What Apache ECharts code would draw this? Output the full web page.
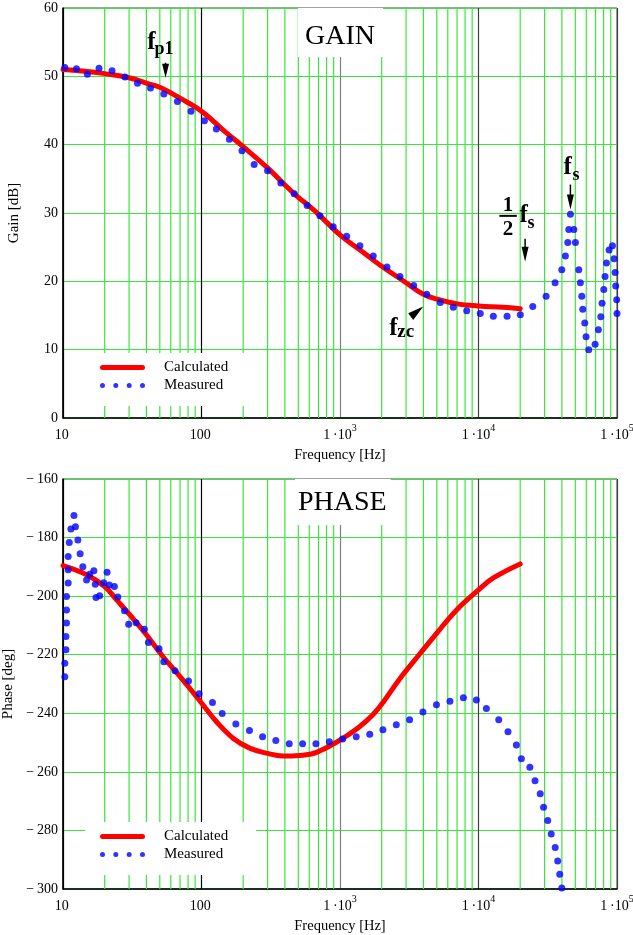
<!DOCTYPE html>
<html>
<head>
<meta charset="utf-8">
<script src="https://cdn.jsdelivr.net/npm/echarts@6/dist/echarts.min.js"></script>
<style>
  html, body { margin: 0; padding: 0; background: #fff; }
  #chart { width: 633px; height: 935px; }
</style>
</head>
<body>
<div id="chart"></div>
<script>
// values
const calcGainFreq = [10, 15, 20, 30, 40, 50, 70, 100, 150, 200, 300, 400, 500, 600, 700, 1000, 1500, 2000, 3000, 4000, 5000, 7000, 10000, 15000, 20000];
const calcGainDb = [51.0, 50.7, 50.4, 49.8, 49.0, 48.4, 46.8, 44.9, 41.8, 39.7, 36.6, 34.1, 32.3, 31.0, 29.8, 26.8, 24.1, 22.2, 19.8, 18.1, 17.4, 16.7, 16.4, 16.2, 16.0];

const measGainFreq = [10.3, 12.5, 15, 18.2, 22.6, 28, 34.5, 42.8, 53.5, 67, 84, 105, 128, 159, 196, 240, 300, 374, 467, 579,
  716, 893, 1117, 1393, 1738, 2183, 2710, 3404, 4227, 5300, 6577, 8223, 10300, 12800, 16070, 20050, 24650, 30760, 35730, 39930,
  42400, 44140, 44860, 46100, 48800, 50100, 53000, 54400, 55700, 56600, 58500, 59800, 62500, 69500, 73400, 76400, 78000, 80300,
  82000, 83900, 87700, 92700, 95300, 96900, 97900, 99500, 100000];
const measGainDb = [51.3, 51.1, 50.3, 51.2, 50.8, 49.9, 49.0, 48.3, 47.4, 46.3, 44.9, 43.5, 42.3, 40.8, 39.1, 37.1, 36.2, 34.4, 32.8, 31.1,
  29.6, 28.0, 26.6, 25.2, 23.7, 22.1, 20.7, 19.4, 18.1, 16.9, 16.2, 15.7, 15.3, 14.9, 14.9, 15.1, 16.3, 17.8, 19.8, 21.7,
  23.7, 25.7, 27.6, 29.8, 27.6, 25.7, 21.7, 19.8, 17.8, 15.9, 13.9, 11.9, 10.0, 10.8, 12.9, 14.8, 16.8, 18.8,
  20.7, 22.7, 24.6, 25.2, 23.3, 21.3, 19.3, 17.3, 15.3];

const calcPhaseFreq = [10, 14.8, 20, 24.3, 30.4, 40, 52.6, 70, 92, 100, 128, 169, 223, 295, 388, 512, 620, 712, 850, 1053,
  1390, 1740, 2050, 2720, 3800, 5000, 6950, 9700, 12800, 20000];
const calcPhaseDeg = [-189.6, -192.7, -196.7, -201.2, -206.4, -213.2, -220.6, -227.5, -234.3, -236.5, -242.8, -248.5, -251.9, -253.6, -254.6, -254.4, -253.9, -252.9, -251.1, -248.5,
  -244.5, -240.3, -236.2, -228, -219.5, -212.6, -204.7, -198.4, -193.8, -189];

const measPhaseFreq = [10.3, 10.3, 10.5, 10.5, 10.6, 10.6, 10.6, 10.9, 10.9, 10.9, 11.1, 11.4, 12.0, 12.3, 12.8, 13.3, 13.9, 14.8, 15.6, 16.7,
  17.1, 17.3, 18.4, 19.7, 20.8, 21.6, 23.5, 24.9, 27.8, 29.8, 33.7, 38.7, 41.4, 49.4, 53.5, 64.4, 80.6, 96.1, 120, 141,
  177, 222, 276, 344, 430, 537, 670, 838, 1045, 1310, 1640, 2040, 2550, 3180, 3970, 4970, 6220, 7780, 9650, 11400,
  14000, 16330, 18770, 20400, 23500, 25600, 27900, 29500, 31600, 33500, 35800, 37300, 38600, 39950];
const measPhaseDeg = [-227.5, -222.9, -218.3, -213.8, -209.2, -204.7, -200.1, -195.5, -191, -186.5, -181.7, -177.1, -172.5, -176.3, -180.8, -185.5, -190, -194.5, -192.5, -191.3,
  -195.9, -200.5, -199.9, -195.4, -191.8, -196.2, -196.7, -200.3, -205, -209.6, -209.1, -211.3, -215.8, -218, -222.4, -225.5, -229, -233.3, -236.3, -240.1,
  -243.7, -245.9, -248, -249.3, -250.4, -250.4, -250.4, -249.7, -248.8, -248, -247.2, -245.6, -243.9, -242.2, -239.6, -237.1, -235.9, -234.7, -235.5, -238.4,
  -242.2, -246.3, -250.8, -255.5, -258.4, -263, -267.5, -272.1, -276.6, -281.2, -285.8, -290.4, -295, -299.7];

// annotation arrow tips (frequency, gain)
const markNames = ['fp1', 'fs', 'halfFs', 'fzc'];
const markFreq = [55, 46100, 21700, 3990];
const markGain = [49.8, 30.5, 22.85, 16.3];

// minor log grid lines: 2..9 in every decade
const minorFreqs = [];
[10, 100, 1000, 10000].forEach(d => { for (let k = 2; k <= 9; k++) minorFreqs.push(d * k); });

const FONT = '"Liberation Serif", "Times New Roman", serif';
const GREEN = '#3ae63a';

const zip = (xs, ys) => xs.map((x, i) => [x, ys[i]]);
function vLines(y0, y1) {
  const d = [];
  minorFreqs.forEach(f => { d.push([f, y0], [f, y1], [f, '-']); });
  return d;
}

function xLabel(v) {
  const e = Math.round(Math.log10(v));
  if (e <= 2) return '{a|' + Math.round(v) + '}{e| }';
  return '{a|1\u2009\u00b710}{e|' + e + '}';
}

function xAxis(gridIndex, nameGap) {
  return {
    type: 'log', logBase: 10, gridIndex: gridIndex, min: 10, max: 100000,
    name: 'Frequency [Hz]', nameLocation: 'middle', nameGap: nameGap,
    nameTextStyle: { fontFamily: FONT, fontSize: 14.5, color: '#000' },
    axisLine: { show: true, onZero: false, lineStyle: { color: '#000', width: 1.5 } },
    axisTick: { show: false },
    minorTick: { show: false },
    axisLabel: {
      formatter: xLabel, margin: 10, color: '#000',
      rich: {
        a: { fontFamily: FONT, fontSize: 14, color: '#000' },
        e: { fontFamily: FONT, fontSize: 10, lineHeight: 10, padding: [0, 0, 13, 0], color: '#000' }
      }
    },
    splitLine: { show: true, lineStyle: { color: ['#000', '#000', '#808080', '#404040', '#404040'], width: 1.2 } }
  };
}

function yAxis(gridIndex, name, min, max, interval) {
  return {
    type: 'value', gridIndex: gridIndex, min: min, max: max, interval: interval,
    name: name, nameLocation: 'middle', nameGap: 41,
    nameTextStyle: { fontFamily: FONT, fontSize: 15, color: '#000' },
    axisLine: { show: true, lineStyle: { color: '#000', width: 1.5 } },
    axisTick: { show: false },
    axisLabel: {
      margin: 5, fontFamily: FONT, fontSize: 14, color: '#000',
      formatter: v => (v < 0 ? '\u2212\u2009' + (-v) : String(v))
    },
    splitLine: { show: true, lineStyle: { color: GREEN, width: 1.2 } }
  };
}

function legend(top) {
  return {
    orient: 'vertical', left: 85, top: top,
    backgroundColor: '#fff', padding: [7, 28, 13, 15], itemGap: 3,
    itemWidth: 45, itemHeight: 5, selectedMode: false, z: 10,
    itemStyle: { borderWidth: 0 },
    textStyle: { fontFamily: FONT, fontSize: 15, color: '#000', lineHeight: 15, padding: [0, 0, 0, 14] },
    data: [
      { name: 'Calculated', icon: 'path://M2.5,0 L42.5,0 A2.5,2.5 0 0 1 42.5,5 L2.5,5 A2.5,2.5 0 0 1 2.5,0 Z' },
      { name: 'Measured', icon: 'path://M0,2.5 A2.5,2.5 0 1 0 5,2.5 A2.5,2.5 0 1 0 0,2.5 Z M13.3,2.5 A2.5,2.5 0 1 0 18.3,2.5 A2.5,2.5 0 1 0 13.3,2.5 Z M26.7,2.5 A2.5,2.5 0 1 0 31.7,2.5 A2.5,2.5 0 1 0 26.7,2.5 Z M40,2.5 A2.5,2.5 0 1 0 45,2.5 A2.5,2.5 0 1 0 40,2.5 Z' }
    ]
  };
}

function panelTitle(text, left, top, padding) {
  return {
    text: text, left: left, top: top, padding: padding, backgroundColor: '#fff', z: 10,
    textStyle: { fontFamily: FONT, fontSize: 28, fontWeight: 'normal', color: '#000', lineHeight: 29 }
  };
}

function gridSeries(i, y0, y1) {
  return {
    type: 'line', name: 'grid' + i, xAxisIndex: i, yAxisIndex: i, data: vLines(y0, y1),
    showSymbol: false, connectNulls: false, silent: true, z: 1,
    lineStyle: { color: GREEN, width: 1.2 }
  };
}

const chart = echarts.init(document.getElementById('chart'), null, { renderer: 'canvas' });

const option = {
  animation: false,
  backgroundColor: '#fff',
  title: [
    panelTitle('GAIN', 298, 8, [14, 8, 6, 7]),
    panelTitle('PHASE', 295, 479, [9, 4, 8, 3])
  ],
  legend: [legend(353), legend(822)],
  grid: [
    { left: 63, top: 8, width: 554, height: 410, show: true, borderColor: '#444', borderWidth: 1, containLabel: false, outerBoundsMode: 'none' },
    { left: 63, top: 479, width: 554, height: 410, show: true, borderColor: '#444', borderWidth: 1, containLabel: false, outerBoundsMode: 'none' }
  ],
  xAxis: [xAxis(0, 22), xAxis(1, 20)],
  yAxis: [
    yAxis(0, 'Gain [dB]', 0, 60, 10),
    yAxis(1, 'Phase [deg]', -300, -160, 20)
  ],
  series: [
    gridSeries(0, 0, 60),
    gridSeries(1, -300, -160),
    {
      type: 'line', name: 'Calculated', xAxisIndex: 0, yAxisIndex: 0,
      data: zip(calcGainFreq, calcGainDb), smooth: 0.4, showSymbol: false, z: 3,
      color: '#ff0000', lineStyle: { color: '#ff0000', width: 5, cap: 'round' }
    },
    {
      type: 'scatter', name: 'Measured', xAxisIndex: 0, yAxisIndex: 0,
      data: zip(measGainFreq, measGainDb), symbolSize: 7, z: 4,
      itemStyle: { color: '#0000ff' }
    },
    {
      type: 'line', name: 'Calculated', xAxisIndex: 1, yAxisIndex: 1,
      data: zip(calcPhaseFreq, calcPhaseDeg), smooth: 0.4, showSymbol: false, z: 3,
      color: '#ff0000', lineStyle: { color: '#ff0000', width: 5, cap: 'round' }
    },
    {
      type: 'scatter', name: 'Measured', xAxisIndex: 1, yAxisIndex: 1,
      data: zip(measPhaseFreq, measPhaseDeg), symbolSize: 7, z: 4,
      itemStyle: { color: '#0000ff' }
    }
  ]
};
chart.setOption(option);

// annotations, anchored to the gain axes
const tip = i => chart.convertToPixel({ xAxisIndex: 0, yAxisIndex: 0 }, [markFreq[i], markGain[i]]);
function txt(x, y, s, size, align) {
  return { type: 'text', x: x, y: y, z: 20,
    style: { text: s, font: 'bold ' + size + 'px ' + FONT, fill: '#000', textAlign: align || 'left', textVerticalAlign: 'middle' } };
}
function poly(pts) { return { type: 'polygon', z: 20, shape: { points: pts }, style: { fill: '#000' } }; }
function seg(x1, y1, x2, y2) { return { type: 'line', z: 20, shape: { x1: x1, y1: y1, x2: x2, y2: y2 }, style: { stroke: '#000', lineWidth: 1.5 } }; }
function downArrow(p, stemTop, headTop, half) {
  const out = [poly([[p[0] - half, p[1] + headTop], [p[0] + half, p[1] + headTop], [p[0], p[1]]])];
  if (stemTop < headTop) out.push(seg(p[0], p[1] + stemTop, p[0], p[1] + headTop + 1));
  return out;
}

const g = [];
let p = tip(0); // f_p1
g.push(txt(p[0] - 18.3, p[1] - 34.8, 'f', 25), txt(p[0] - 11, p[1] - 28, 'p1', 18));
g.push(...downArrow(p, -15, -14, 3.5));
p = tip(1); // f_s
g.push(txt(p[0] - 7, p[1] - 42.5, 'f', 25), txt(p[0] + 2, p[1] - 34.4, 's', 18));
g.push(...downArrow(p, -25, -15, 3.5));
p = tip(2); // 1/2 f_s
g.push(txt(p[0] - 17, p[1] - 55.8, '1', 21, 'center'), txt(p[0] - 17, p[1] - 31.8, '2', 21, 'center'));
g.push({ type: 'line', z: 20, shape: { x1: p[0] - 25.7, y1: p[1] - 46, x2: p[0] - 8.3, y2: p[1] - 46 }, style: { stroke: '#000', lineWidth: 2 } });
g.push(txt(p[0] - 5.7, p[1] - 46.5, 'f', 25), txt(p[0] + 2.3, p[1] - 38.1, 's', 18));
g.push(...downArrow(p, -23, -15, 3.5));
p = tip(3); // f_zc
g.push(txt(p[0] - 34, p[1] + 21.5, 'f', 25), txt(p[0] - 26, p[1] + 25.2, 'zc', 19));
g.push(poly([[p[0], p[1]], [p[0] - 15, p[1] + 6.6], [p[0] - 10, p[1] + 13.3]]));

chart.setOption({ graphic: g });
</script>
</body>
</html>
